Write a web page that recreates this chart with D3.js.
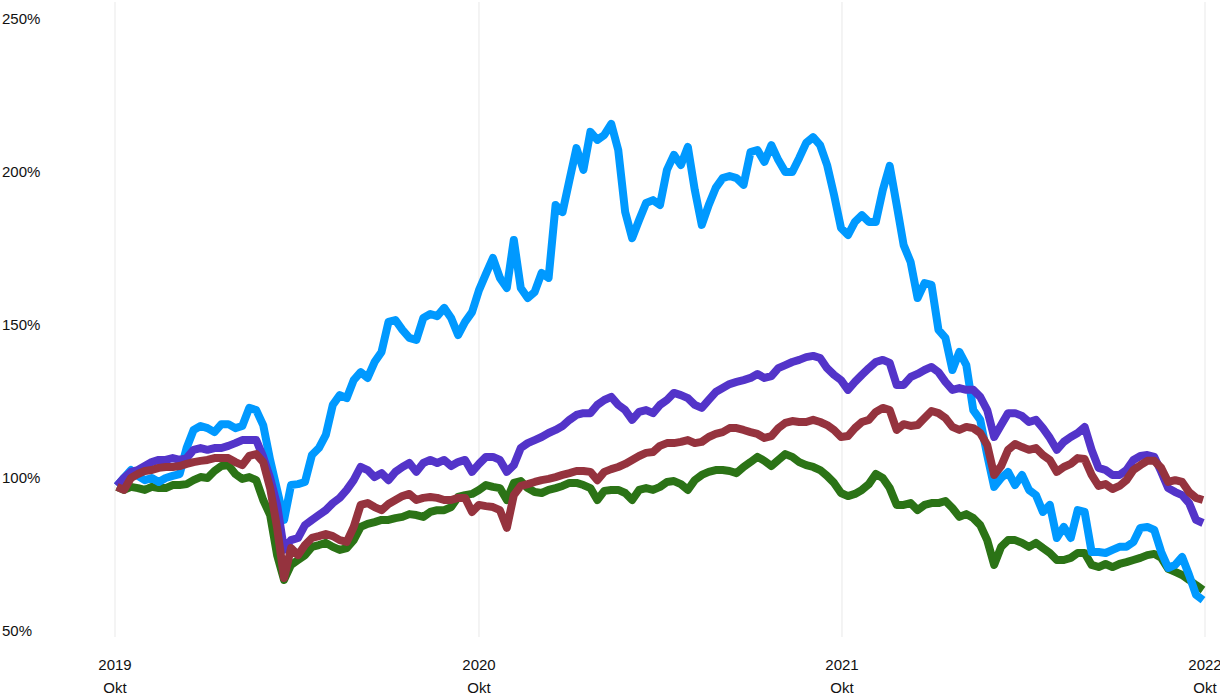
<!DOCTYPE html>
<html>
<head>
<meta charset="utf-8">
<script src="https://cdn.jsdelivr.net/npm/d3@7"></script>
<style>
  html, body { margin: 0; padding: 0; background: #fff; }
  svg { display: block; }
  text { font-family: "Liberation Sans", Arial, Helvetica, sans-serif; fill: #111; }
</style>
</head>
<body>
<svg id="chart" width="1220" height="696"></svg>
<script>
// Weekly observations starting 2019-10-03 (157 weeks)
const startDate = "2019-10-03";
const weekCount = 157;

// Tick labels
const yTicks = [50, 100, 150, 200, 250];
const xTickDates = ["2019-10-01", "2020-10-01", "2021-10-01", "2022-10-01"];
const xTickYears = ["2019", "2020", "2021", "2022"];
const xTickMonth = "Okt";

// Series names and values (% of start)
const seriesNames = ["green", "blue", "purple", "red"];

const blueValues = [
  97.4,100.0,102.6,100.7,99.3,100.0,98.7,100.0,100.7,101.3,
  109.8,115.7,117.0,116.3,115.0,117.6,117.6,116.3,117.0,122.9,
  122.2,117.3,105.9,96.1,86.3,97.7,98.0,98.7,107.5,109.8,
  114.1,123.9,127.1,126.1,132.0,134.6,132.7,137.9,141.2,151.0,
  151.6,148.4,145.8,145.1,152.3,153.6,152.9,155.6,152.3,146.7,
  151.0,154.2,161.4,166.7,171.9,165.4,162.1,177.8,162.1,158.8,
  160.8,167.0,165.4,189.2,186.9,197.4,207.8,200.7,213.1,210.5,
  212.1,215.7,207.2,186.9,178.4,184.3,189.9,190.8,189.2,200.7,
  205.6,202.3,208.2,194.1,182.7,189.2,194.8,198.0,198.7,198.0,
  195.8,206.5,207.2,203.3,208.8,203.9,200.0,200.0,204.6,209.5,
  211.4,208.8,202.3,192.5,181.7,179.4,183.7,185.9,183.7,183.7,
  194.1,202.0,189.2,176.1,170.6,158.8,163.7,163.1,148.4,145.8,
  135.3,141.2,136.9,122.2,119.0,107.5,97.1,100.0,102.0,97.7,
  101.0,96.1,94.4,88.9,91.2,80.4,84.0,80.4,89.5,88.9,
  75.8,75.8,75.5,76.5,77.5,77.5,79.1,83.7,84.0,83.0,
  75.8,70.6,71.6,74.2,68.3,61.8,60.1
];

const purpleValues = [
  97.4,100.0,102.0,102.6,103.9,105.2,105.9,105.9,106.5,105.9,
  106.5,109.2,109.8,109.2,109.8,109.8,110.5,111.4,112.4,112.4,
  112.4,106.9,100.0,91.2,76.5,79.7,80.4,84.6,86.3,87.9,
  89.5,91.8,93.5,96.1,99.3,103.6,102.6,100.3,101.6,99.3,
  102.0,103.6,104.9,102.0,104.9,105.9,104.9,105.9,103.9,105.2,
  105.9,102.0,104.6,106.9,106.9,105.9,102.0,104.2,109.8,111.4,
  112.4,113.4,114.7,115.7,117.0,119.0,120.6,121.2,121.2,123.9,
  125.5,126.5,123.9,122.2,119.0,121.6,122.2,121.2,123.9,125.5,
  127.8,127.1,126.1,123.9,122.9,125.5,128.1,129.4,130.7,131.4,
  132.0,132.7,134.0,132.7,133.3,135.9,136.9,137.9,138.6,139.5,
  139.9,139.2,135.9,133.7,132.0,128.8,131.4,133.7,135.9,137.9,
  138.6,137.6,130.4,130.4,133.0,134.0,135.3,136.3,134.6,131.4,
  128.8,129.4,128.8,128.8,126.5,122.2,113.4,117.3,121.2,121.2,
  120.3,118.3,119.0,116.3,113.1,109.2,111.8,113.4,114.7,116.7,
  109.2,103.3,102.6,101.0,101.0,102.6,105.9,107.2,107.5,106.9,
  102.0,96.7,95.4,94.4,91.8,86.3,85.3
];

const redValues = [
  97.1,96.1,100.0,101.3,102.3,102.6,103.3,103.6,103.6,103.9,
  104.6,105.2,105.6,105.9,106.5,106.5,106.5,105.2,104.2,107.2,
  107.8,105.2,96.7,83.7,67.3,77.1,74.8,78.1,80.4,81.0,
  81.7,81.0,79.7,79.1,84.0,91.2,91.8,90.5,89.5,91.5,
  92.8,94.1,94.8,92.8,93.5,93.8,93.5,92.8,92.8,93.5,
  93.5,88.9,91.2,90.8,90.5,89.5,83.7,94.4,97.4,98.0,
  98.7,99.3,99.7,100.3,101.0,101.6,102.3,102.3,102.0,99.3,
  102.0,102.9,103.6,104.6,105.9,107.2,108.2,108.5,110.5,111.4,
  111.4,111.8,112.4,111.4,111.8,113.4,114.4,115.0,116.3,116.3,
  115.7,115.0,114.4,113.1,113.7,116.3,118.0,118.6,118.3,118.3,
  119.0,118.3,117.3,115.7,113.4,113.7,116.3,118.3,119.0,121.6,
  122.9,122.2,115.7,117.6,117.0,117.3,119.6,121.9,121.2,119.6,
  116.7,115.7,116.7,116.3,114.7,110.8,101.0,103.9,109.2,111.1,
  110.1,109.2,109.8,107.5,105.9,102.0,103.6,104.6,106.5,106.2,
  101.0,97.4,98.0,96.4,97.4,99.3,102.6,104.2,105.6,105.6,
  103.3,98.7,99.3,98.7,95.4,93.5,92.8
];

const greenValues = [
  97.1,96.1,97.1,96.7,96.1,97.1,96.7,96.7,97.7,97.7,
  98.0,99.3,100.3,100.0,102.3,103.9,104.2,101.3,99.7,100.3,
  99.3,92.8,87.9,74.8,66.7,71.6,73.2,74.8,77.5,78.1,
  78.8,77.5,76.5,77.1,79.7,84.0,85.0,85.6,86.3,86.3,
  86.9,87.3,88.2,87.9,87.3,88.9,89.5,89.5,90.5,93.8,
  94.4,94.8,96.1,97.7,97.1,96.7,92.8,98.4,99.0,96.7,
  95.4,95.1,96.1,96.7,97.4,98.4,98.4,97.7,96.7,92.8,
  95.8,96.1,96.1,95.1,92.8,96.1,96.7,96.1,97.1,98.7,
  99.0,98.0,96.1,99.3,101.0,102.0,102.6,102.6,102.3,101.6,
  103.6,105.2,106.9,105.6,103.9,105.9,107.8,106.9,105.2,104.2,
  103.6,102.6,100.7,98.4,95.1,94.1,94.8,96.1,98.0,101.3,
  100.0,96.7,91.2,91.2,91.8,89.5,91.2,91.8,91.8,92.5,
  90.2,87.3,88.2,86.9,84.6,79.7,71.6,77.5,79.7,79.7,
  78.8,77.5,78.8,77.1,75.5,73.2,73.2,73.9,75.5,75.5,
  71.6,70.9,71.9,70.9,71.9,72.5,73.2,73.9,74.8,75.2,
  73.9,70.3,69.3,68.3,66.7,65.0,63.4
];

const seriesColors = {
  green: "#2b7316",
  blue: "#0099ff",
  purple: "#5334c9",
  red: "#95333e"
};

const valuesByName = { green: greenValues, blue: blueValues, purple: purpleValues, red: redValues };

// ---- drawing ----
const svg = d3.select("#chart");
const parse = d3.timeParse("%Y-%m-%d");
const t0 = parse(startDate);
const dates = d3.range(weekCount).map(i => d3.timeDay.offset(t0, i * 7));

const x = d3.scaleTime()
  .domain([parse(xTickDates[0]), parse(xTickDates[xTickDates.length - 1])])
  .range([115, 1205]);
const y = d3.scaleLinear().domain([50, 250]).range([631, 19]);

// vertical grid lines
svg.append("g").selectAll("line")
  .data(xTickDates)
  .join("line")
  .attr("x1", d => x(parse(d))).attr("x2", d => x(parse(d)))
  .attr("y1", 2).attr("y2", 637)
  .attr("stroke", "#f0f0f0")
  .attr("stroke-width", 1.5);

// y labels
svg.append("g").selectAll("text")
  .data(yTicks)
  .join("text")
  .attr("x", 2)
  .attr("y", d => y(d))
  .attr("dy", "0.35em")
  .attr("font-size", 15)
  .text(d => d + "%");

// x labels
const xl = svg.append("g").selectAll("g")
  .data(xTickDates)
  .join("g")
  .attr("transform", d => `translate(${x(parse(d))},0)`);
xl.append("text").attr("y", 665).attr("dy", "0.35em").attr("text-anchor", "middle")
  .attr("font-size", 15).text((d, i) => xTickYears[i]);
xl.append("text").attr("y", 688).attr("dy", "0.35em").attr("text-anchor", "middle")
  .attr("font-size", 15).text(xTickMonth);

// lines
const line = d3.line()
  .x((d, i) => x(dates[i]))
  .y(d => y(d));

svg.append("g").selectAll("path")
  .data(seriesNames)
  .join("path")
  .attr("d", n => line(valuesByName[n]))
  .attr("fill", "none")
  .attr("stroke", n => seriesColors[n])
  .attr("stroke-width", 8)
  .attr("stroke-linejoin", "round")
  .attr("stroke-linecap", "butt");
</script>
</body>
</html>
